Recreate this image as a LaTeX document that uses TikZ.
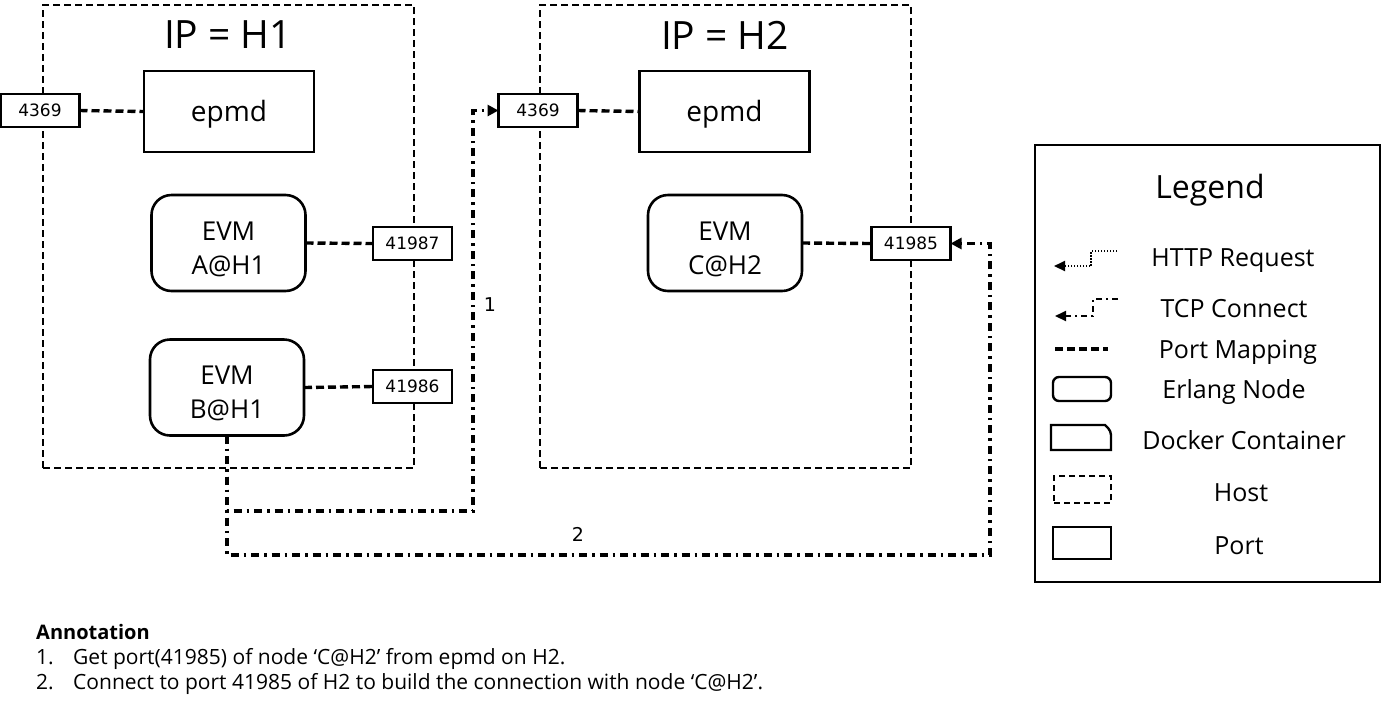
\documentclass[tikz,border=0pt]{standalone}
\usepackage{fontspec}
\setmainfont{Open Sans}
\newfontfamily\portfont{DejaVu Sans}
\usetikzlibrary{arrows.meta}
\begin{document}
\begin{tikzpicture}[x=1pt,y=-1pt,
  host/.style={draw,line width=2.4pt,dash pattern=on 7pt off 4pt,minimum width=371pt,minimum height=463pt,inner sep=0pt,outer sep=0pt},
  boxc/.style={draw,line width=2.6pt,minimum width=170pt,minimum height=81pt,inner sep=0pt,outer sep=0pt,font=\fontsize{28}{30}\selectfont},
  evm/.style={draw,line width=2.6pt,rounded corners=20pt,minimum width=154pt,minimum height=96pt,inner sep=0pt,outer sep=0pt,align=center,font=\fontsize{26}{34}\selectfont},
  portbox/.style={draw,line width=2.4pt,minimum width=79pt,minimum height=33pt,inner sep=0pt,outer sep=0pt,font=\portfont\fontsize{17}{19}\selectfont},
  title/.style={font=\fontsize{39}{42}\selectfont},
  pmap/.style={line width=3.4pt,dash pattern=on 8pt off 4pt},
  conn/.style={line width=3.4pt,dash pattern=on 8pt off 5pt on 2.5pt off 5pt},
  tip/.style={-{Triangle[length=11pt,width=11pt]}},
  lab/.style={font=\portfont\fontsize{19}{20}\selectfont},
  legtext/.style={font=\fontsize{25}{28}\selectfont,yshift=-3pt},
  anno/.style={anchor=base west,font=\fontsize{21}{24}\selectfont,inner sep=0pt}
]
\useasboundingbox (0,0) rectangle (1383,710);
\fill[white] (0,0) rectangle (1383,710);

% hosts
\node[host] (h1) at (228.5,236.5) {};
\node[host] (h2) at (725.5,236.5) {};
\node[title] (t1) at (228,35) {IP = H1};
\node[title] (t2) at (725,35) {IP = H2};

% H1 content
\node[boxc,fill=white] (epmd1) at (229,111.5) {};
\node[font=\fontsize{28}{30}\selectfont] (e1t) at (229,114.5) {epmd};
\node[portbox,fill=white] (p4369a) at (40,110.5) {4369};
\node[evm,fill=white] (evmA) at (228.5,243) {};
\node[align=center,font=\fontsize{26}{34}\selectfont] (eat) at (228.5,249) {EVM\\A@H1};
\node[portbox,fill=white] (p41987) at (412.5,243.5) {41987};
\node[evm,fill=white] (evmB) at (227,387.5) {};
\node[align=center,font=\fontsize{26}{34}\selectfont] (ebt) at (227,393.5) {EVM\\B@H1};
\node[portbox,fill=white] (p41986) at (412.5,386.5) {41986};

% H2 content
\node[boxc,fill=white] (epmd2) at (724.5,111.5) {};
\node[font=\fontsize{28}{30}\selectfont] (e2t) at (724.5,114.5) {epmd};
\node[portbox,fill=white] (p4369b) at (538,110.5) {4369};
\node[evm,fill=white] (evmC) at (725,243) {};
\node[align=center,font=\fontsize{26}{34}\selectfont] (ect) at (725,249) {EVM\\C@H2};
\node[portbox,fill=white] (p41985) at (911,243.5) {41985};

% port mappings
\draw[pmap] (p4369a.east) -- (epmd1.west);
\draw[pmap] (evmA.east) -- (p41987.west);
\draw[pmap] (evmB.east) -- (p41986.west);
\draw[pmap] (p4369b.east) -- (epmd2.west);
\draw[pmap] (evmC.east) -- (p41985.west);

% connections
\coordinate (c1) at (473,511);
\coordinate (c2) at (990,555);
\draw[conn,tip] (evmB.south) |- (c1) |- (p4369b.west);
\draw[conn,tip] (evmB.south) |- (c2) |- (p41985.east);
\node[lab] (l1) at (490,305) {1};
\node[lab] (l2) at (578,534) {2};

% legend
\node[draw,line width=2.6pt,minimum width=345pt,minimum height=437pt,inner sep=0pt,outer sep=0pt] (leg) at (1207.5,363.5) {};
\node[font=\fontsize{32}{34}\selectfont] (legt) at (1210,190) {Legend};

\coordinate (hA) at (1117,251);
\coordinate (hB) at (1091,266);
\coordinate (hC) at (1054,266);
\draw[line width=2.2pt,dash pattern=on 1.5pt off 1.5pt,-{Triangle[length=11pt,width=10pt]}] (hA) -| (hB) -- (hC);
\node[legtext] (lt1) at (1233,258) {HTTP Request};

\coordinate (tA) at (1118,299);
\coordinate (tB) at (1093,316);
\coordinate (tC) at (1055,316);
\draw[line width=2.2pt,dash pattern=on 6pt off 4pt on 2pt off 4pt,-{Triangle[length=11pt,width=10pt]}] (tA) -| (tB) -- (tC);
\node[legtext] (lt2) at (1234,306) {TCP Connect};

\coordinate (pA) at (1055,349);
\coordinate (pB) at (1108,349);
\draw[pmap] (pA) -- (pB);
\node[legtext] (lt3) at (1238,349) {Port Mapping};

\node[draw,line width=2.4pt,rounded corners=6pt,minimum width=58pt,minimum height=24pt,inner sep=0pt] (le1) at (1082,389) {};
\node[legtext] (lt4) at (1234,389) {Erlang Node};

\draw[line width=2.4pt] (1051,425) -- (1105,425) [rounded corners=4pt] -- (1111,431) [sharp corners] -- (1111,450) -- (1051,450) -- cycle;
\node[legtext] (lt5) at (1244,437) {Docker Container};

\node[draw,line width=2.4pt,dash pattern=on 6pt off 4pt,minimum width=57pt,minimum height=27pt,inner sep=0pt] (le3) at (1082.5,489.5) {};
\node[legtext] (lt6) at (1241,490) {Host};

\node[draw,line width=2.4pt,minimum width=58pt,minimum height=32pt,inner sep=0pt] (le4) at (1082,543) {};
\node[legtext] (lt7) at (1239,543) {Port};

% annotation
\node[anno,font=\bfseries\fontsize{20}{22}\selectfont] (an0) at (36,639) {Annotation};
\node[anno] (an1n) at (36,664) {1.};
\node[anno] (an1) at (73,664) {Get port(41985) of node ‘C@H2’ from epmd on H2.};
\node[anno] (an2n) at (36,689) {2.};
\node[anno] (an2) at (73,689) {Connect to port 41985 of H2 to build the connection with node ‘C@H2’.};
\end{tikzpicture}
\end{document}
